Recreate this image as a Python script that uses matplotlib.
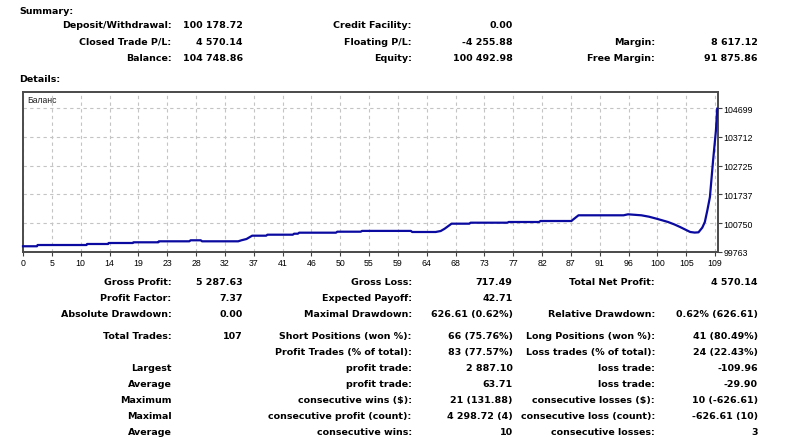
import matplotlib
matplotlib.use("Agg")
import matplotlib.pyplot as plt
import numpy as np

W, H = 786, 439

# ---------------- data ----------------
summary_rows = [
    ["Deposit/Withdrawal:", "100 178.72", "Credit Facility:", "0.00", "", ""],
    ["Closed Trade P/L:", "4 570.14", "Floating P/L:", "-4 255.88", "Margin:", "8 617.12"],
    ["Balance:", "104 748.86", "Equity:", "100 492.98", "Free Margin:", "91 875.86"],
]

detail_rows = [
    ["Gross Profit:", "5 287.63", "Gross Loss:", "717.49", "Total Net Profit:", "4 570.14"],
    ["Profit Factor:", "7.37", "Expected Payoff:", "42.71", "", ""],
    ["Absolute Drawdown:", "0.00", "Maximal Drawdown:", "626.61 (0.62%)", "Relative Drawdown:", "0.62% (626.61)"],
    ["Total Trades:", "107", "Short Positions (won %):", "66 (75.76%)", "Long Positions (won %):", "41 (80.49%)"],
    ["", "", "Profit Trades (% of total):", "83 (77.57%)", "Loss trades (% of total):", "24 (22.43%)"],
    ["Largest", "", "profit trade:", "2 887.10", "loss trade:", "-109.96"],
    ["Average", "", "profit trade:", "63.71", "loss trade:", "-29.90"],
    ["Maximum", "", "consecutive wins ($):", "21 (131.88)", "consecutive losses ($):", "10 (-626.61)"],
    ["Maximal", "", "consecutive profit (count):", "4 298.72 (4)", "consecutive loss (count):", "-626.61 (10)"],
    ["Average", "", "consecutive wins:", "10", "consecutive losses:", "3"],
]

trade_x = [0.0, 2.2, 2.3, 10.0, 10.1, 13.4, 13.5, 17.3, 17.4, 21.3, 21.4, 26.2, 26.4,
           28.0, 28.2, 33.9, 34.4, 35.2, 36.1, 38.3, 38.5, 42.5, 42.7, 43.3, 43.5,
           49.3, 49.5, 53.2, 53.4, 61.1, 61.3, 65.0, 65.8, 66.4, 67.5, 70.3, 70.5,
           76.3, 76.5, 81.3, 81.5, 86.4, 86.5, 87.5, 94.6, 95.3, 97.4, 98.6, 99.8,
           100.7, 101.6, 102.6, 103.5, 104.3, 105.1, 105.8, 106.4, 107.0, 107.4,
           107.8, 108.2, 108.7, 109.15, 109.35]
balance = [99960, 99960, 100003, 100003, 100038, 100038, 100072, 100072, 100096,
           100096, 100130, 100130, 100165, 100165, 100130, 100130, 100165, 100209,
           100323, 100323, 100357, 100357, 100391, 100391, 100426, 100426, 100460,
           100460, 100487, 100487, 100450, 100450, 100484, 100560, 100735, 100735,
           100769, 100769, 100793, 100793, 100827, 100827, 100851, 101023, 101023,
           101057, 101023, 100975, 100906, 100850, 100793, 100710, 100621, 100535,
           100450, 100430, 100439, 100600, 100793, 101200, 101651, 102911, 103941,
           104682]

y_ticks = [99763, 100750, 101737, 102725, 103712, 104699]
x_tick_labels = ["0", "5", "10", "14", "19", "23", "28", "32", "37", "41", "46", "50",
                 "55", "59", "64", "68", "73", "77", "82", "87", "91", "96", "100",
                 "105", "109"]
x_max = 109

# ---------------- figure ----------------
fig = plt.figure(figsize=(W / 100, H / 100), dpi=100)
fig.patch.set_facecolor("white")

BOLD = dict(family="DejaVu Sans", fontweight="bold", fontsize=6.8, color="black")


def ftext(x, y, s, ha="left", **kw):
    style = dict(BOLD)
    style.update(kw)
    fig.text(x / W, 1 - y / H, s, ha=ha, va="center", **style)


ftext(19, 11, "Summary:")
ftext(19, 80, "Details:")

col_right = [171.5, 242.7, 411.7, 512.7, 655.0, 757.7]

sum_y = [26, 42.3, 58.7]
for row, y in zip(summary_rows, sum_y):
    for s, xr in zip(row, col_right):
        if s:
            ftext(xr, y, s, ha="right")

det_y = [282.7, 298.7, 314.3, 336.7, 352.3, 368.3, 384.3, 400.7, 416.7, 432.7]
for row, y in zip(detail_rows, det_y):
    for s, xr in zip(row, col_right):
        if s:
            ftext(xr, y, s, ha="right")

# ---------------- chart ----------------
ax_l, ax_r, ax_t, ax_b = 22.5, 717.5, 93.0, 253.0
ax = fig.add_axes([ax_l / W, 1 - ax_b / H, (ax_r - ax_l) / W, (ax_b - ax_t) / H])
ax.set_facecolor("white")

step = y_ticks[1] - y_ticks[0]
px_per_unit_y = 28.75 / step
y_top = y_ticks[0] + (ax_b - ax_t) / px_per_unit_y
x_px0, x_px_max = 23.0, 715.0
sx = (x_px_max - x_px0) / x_max
ax.set_xlim((ax_l - x_px0) / sx, (ax_r - x_px0) / sx)
ax.set_ylim(y_ticks[0], y_top)

x_ticks = np.linspace(0, x_max, len(x_tick_labels))
ax.set_xticks(x_ticks)
ax.set_xticklabels(x_tick_labels)
ax.set_yticks(y_ticks)
ax.set_yticklabels([str(v) for v in y_ticks])
ax.yaxis.tick_right()

ax.tick_params(axis="both", which="both", length=3, width=0.8, color="#404040",
               labelsize=6.3, labelcolor="black", pad=1.5)
for lbl in ax.get_xticklabels() + ax.get_yticklabels():
    lbl.set_family("Liberation Sans")

ax.grid(True, color="#c4c4c4", linestyle=(0, (3, 3)), linewidth=0.8)
for sp in ax.spines.values():
    sp.set_color("#4a4a4a")
    sp.set_linewidth(1.4)

ax.plot(trade_x, balance, color="#0a0aa0", linewidth=1.6, solid_joinstyle="round",
        clip_on=False, zorder=3)

ax.text(0.007, 0.95, "Баланс", transform=ax.transAxes, ha="left", va="center",
        family="Liberation Sans", fontsize=6.2, color="#202020")

fig.savefig("out.png", dpi=100, facecolor="white")
